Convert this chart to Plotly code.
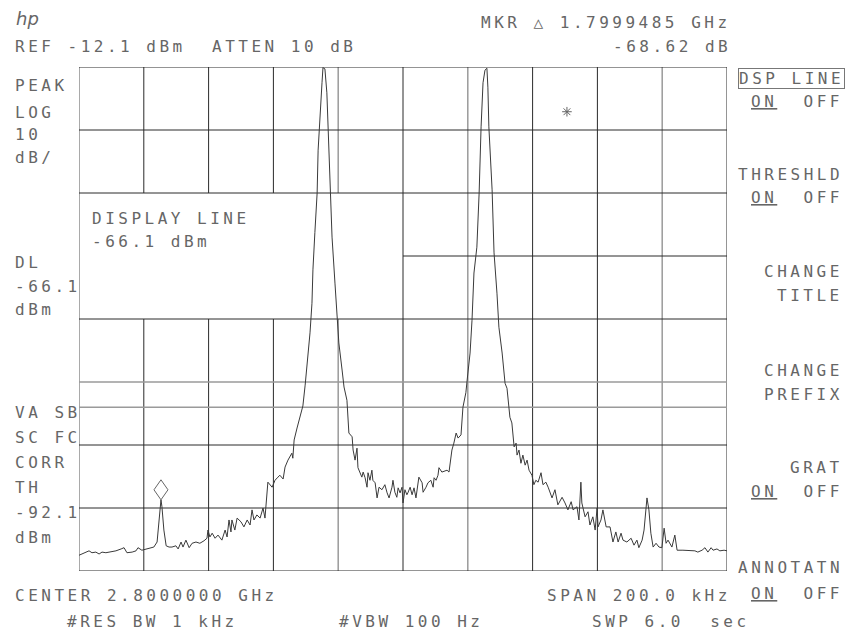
import plotly.graph_objects as go

# ---------------- data read from the screen ----------------
# frequency offset from centre (kHz) and trace level (dBm)
freq_khz = [
    -100.0, -98.5, -96.9, -96.0, -94.8, -93.8, -92.9, -91.7, -90.1, -88.6,
    -87.0, -86.1, -85.2, -83.6, -82.4, -81.8, -80.6, -79.3, -77.8, -76.9,
    -75.9, -75.3, -74.7, -74.4, -73.8, -73.1, -72.2, -71.3, -70.1, -69.4,
    -68.5, -67.9, -67.0, -66.0, -65.1, -63.9, -62.7, -61.4, -60.5, -60.2,
    -59.6, -58.9, -58.0, -57.1, -55.9, -54.9, -54.3, -53.7, -53.1, -52.8,
    -51.9, -51.2, -50.0, -49.1, -48.1, -47.2, -46.6, -46.0, -45.1, -44.1,
    -43.2, -42.6, -41.7, -40.4, -39.5, -38.6, -38.0, -37.0, -36.4, -35.5,
    -34.9, -34.3, -34.0, -33.6, -32.7, -31.8, -30.9, -30.2, -29.3, -28.7,
    -28.1, -27.8, -27.2, -26.5, -26.2, -25.6, -25.0, -24.7, -24.1, -23.5,
    -23.1, -22.5, -21.9, -21.0, -20.4, -19.8, -18.8, -18.2, -17.3, -16.7,
    -15.7, -15.4, -14.8, -14.2, -13.9, -12.7, -12.3, -11.7, -11.1, -10.8,
    -10.2, -9.6, -9.3, -8.6, -8.0, -7.4, -6.5, -5.6, -4.9, -4.3,
    -3.4, -3.1, -2.5, -1.9, -1.5, -0.9, -0.3, 0.0, 0.6, 1.2,
    1.5, 2.2, 2.8, 3.4, 4.0, 4.9, 5.9, 6.2, 7.1, 7.7,
    8.6, 9.3, 9.6, 10.2, 10.8, 11.1, 12.0, 13.6, 14.2, 15.1,
    15.7, 16.4, 17.0, 17.9, 18.5, 19.4, 19.8, 20.7, 21.3, 21.9,
    22.8, 23.5, 24.1, 24.7, 25.3, 25.9, 26.2, 26.5, 27.5, 28.1,
    29.0, 29.6, 30.6, 31.5, 32.1, 33.0, 33.6, 34.3, 34.9, 35.2,
    35.8, 36.4, 37.0, 37.7, 38.3, 38.9, 39.8, 40.4, 41.0, 41.7,
    42.6, 43.2, 44.1, 44.8, 46.0, 46.9, 47.8, 49.1, 50.0, 50.9,
    51.9, 52.5, 53.7, 54.3, 54.9, 55.2, 56.2, 57.1, 57.7, 58.6,
    59.3, 59.9, 60.2, 61.1, 61.7, 62.7, 63.9, 64.8, 65.7, 66.4,
    67.3, 67.9, 69.1, 70.4, 71.3, 72.2, 72.8, 73.8, 74.4, 75.0,
    75.3, 75.9, 76.5, 77.2, 78.1, 79.0, 79.9, 80.6, 81.2, 81.8,
    83.0, 83.9, 84.6, 86.4, 88.6, 90.1, 91.0, 92.3, 93.2, 94.1,
    95.1, 95.7, 96.9, 97.8, 99.1, 100.0,
]
level_dbm = [
    -89.6, -89.2, -88.9, -89.2, -89.1, -89.4, -89.1, -89.2, -89.1, -88.9,
    -88.6, -88.4, -89.2, -89.1, -88.9, -88.4, -88.8, -88.6, -88.4, -88.3,
    -87.5, -84.0, -80.8, -81.9, -85.6, -88.1, -88.3, -88.3, -88.1, -88.6,
    -87.5, -88.3, -87.2, -88.4, -87.7, -87.5, -87.7, -87.3, -86.9, -85.6,
    -86.7, -86.1, -86.9, -86.4, -87.2, -85.6, -86.7, -84.0, -85.9, -84.0,
    -85.6, -83.7, -84.3, -85.1, -84.0, -84.8, -82.4, -84.0, -83.2, -83.7,
    -82.1, -83.7, -78.0, -78.8, -77.7, -77.2, -76.9, -77.5, -75.6, -74.5,
    -74.0, -73.4, -74.2, -71.3, -69.4, -67.5, -65.9, -62.6, -58.1, -54.3,
    -49.6, -44.3, -38.4, -32.1, -25.3, -18.9, -14.6, -12.2, -12.4, -16.2,
    -22.6, -30.5, -39.1, -46.4, -51.8, -55.9, -60.2, -62.9, -65.0, -70.2,
    -70.8, -72.9, -74.5, -72.6, -75.7, -77.2, -76.4, -77.3, -78.8, -76.5,
    -77.7, -76.1, -77.7, -78.1, -80.5, -78.8, -79.2, -78.4, -79.7, -80.5,
    -78.8, -77.7, -79.6, -80.4, -78.9, -79.7, -78.8, -81.3, -79.2, -80.0,
    -79.7, -78.8, -80.0, -78.9, -80.5, -77.2, -78.1, -79.6, -78.8, -78.1,
    -77.7, -78.8, -77.3, -77.7, -76.9, -75.7, -76.4, -76.1, -76.4, -72.9,
    -71.8, -70.2, -71.0, -70.5, -66.1, -63.8, -61.8, -57.5, -52.3, -44.8,
    -40.7, -32.1, -21.6, -14.6, -12.6, -12.3, -15.3, -21.6, -31.6, -41.6,
    -48.0, -53.4, -57.5, -62.3, -63.1, -67.7, -68.6, -72.4, -71.8, -73.7,
    -72.9, -75.0, -73.7, -75.3, -74.5, -76.1, -76.9, -78.4, -77.7, -78.0,
    -76.5, -78.4, -78.0, -78.8, -80.5, -79.2, -81.6, -80.4, -81.3, -82.4,
    -81.1, -82.4, -81.9, -84.0, -78.0, -81.3, -83.5, -82.7, -84.8, -83.5,
    -85.6, -82.1, -85.1, -84.0, -82.4, -85.1, -85.1, -87.5, -85.9, -87.5,
    -86.1, -87.2, -87.5, -86.9, -88.0, -87.2, -88.4, -87.2, -85.6, -81.3,
    -80.5, -82.4, -86.1, -88.3, -87.7, -88.3, -88.4, -85.3, -87.7, -87.2,
    -88.3, -86.4, -88.8, -88.8, -88.8, -88.9, -89.1, -88.8, -88.4, -89.1,
    -88.4, -88.8, -88.6, -88.9, -88.8, -88.9,
]

marker_freq_khz = [-24.7, -74.7]      # peak marker and delta marker
marker_level_dbm = [-12.2, -80.8]
threshold_mark_freq_khz = [50.6]
threshold_mark_level_dbm = [-19.2]

ref_level_dbm = -12.1
display_line_dbm = -66.1
threshold_dbm = -92.1
grid_freqs_khz = [-100, -80, -60, -40, -20, 0, 20, 40, 60, 80, 100]
grid_levels_dbm = [-12.1, -22.1, -32.1, -42.1, -52.1, -62.1, -72.1, -82.1, -92.1]

# ---------------- layout geometry (screen pixels) ----------------
W, H = 846, 632
L, R, T, B = 79, 727, 67, 571


def px(x):
    return (x - L) / (R - L)


def py(y):
    return (B - y) / (B - T)


DARK = "#2a2a2a"
GRAY = "#9a9a9a"
TXT = "#666666"
FONT = "DejaVu Sans Mono"
LS = 3.5

fig = go.Figure()
fig.add_trace(go.Scatter(x=freq_khz, y=level_dbm, mode="lines",
                         line=dict(color="#3a3a3a", width=1), hoverinfo="skip"))
fig.add_trace(go.Scatter(x=threshold_mark_freq_khz, y=threshold_mark_level_dbm,
                         mode="markers",
                         marker=dict(symbol="asterisk-open", size=8, color="#666",
                                     line=dict(color="#666", width=1)),
                         hoverinfo="skip"))

shapes = []
# vertical graticule
box_top, box_bot = grid_levels_dbm[2], grid_levels_dbm[4]
vcolors = {0: "#555", 4: GRAY, 6: GRAY, 9: GRAY}
for i, f in enumerate(grid_freqs_khz):
    col = vcolors.get(i, DARK)
    w = 1.5 if col == GRAY else 1
    if 1 <= i <= 4:
        segs = [(grid_levels_dbm[0], box_top), (box_bot, grid_levels_dbm[-1])]
    else:
        segs = [(grid_levels_dbm[0], grid_levels_dbm[-1])]
    for y0, y1 in segs:
        shapes.append(dict(type="line", xref="x", yref="y", x0=f, x1=f, y0=y0, y1=y1,
                           line=dict(color=col, width=w), layer="below"))
# horizontal graticule
for j, lv in enumerate(grid_levels_dbm):
    col = GRAY if j == 5 else DARK
    w = 1.5 if col == GRAY else 1
    x0 = 0 if j == 3 else grid_freqs_khz[0]
    shapes.append(dict(type="line", xref="x", yref="y", x0=x0, x1=grid_freqs_khz[-1],
                       y0=lv, y1=lv, line=dict(color=col, width=w), layer="below"))
# display line
shapes.append(dict(type="line", xref="x", yref="y", x0=grid_freqs_khz[0],
                   x1=grid_freqs_khz[-1], y0=display_line_dbm, y1=display_line_dbm,
                   line=dict(color=GRAY, width=1.5), layer="below"))
# marker diamonds
for mf, ml in zip(marker_freq_khz, marker_level_dbm):
    shapes.append(dict(type="path", xref="x", yref="y", xsizemode="pixel",
                       ysizemode="pixel", xanchor=mf, yanchor=ml,
                       path="M0,0 L7,10 L0,20 L-7,10 Z",
                       line=dict(color="#666", width=1)))

annotations = []


def txt(s, x, y, anchor="left", size=16, border=False):
    s = s.replace(" ", "\u00a0")
    s = s.replace("[u]", "<u>").replace("[/u]", "</u>")
    a = dict(text=f'<span style="letter-spacing:{LS}px">{s}</span>',
             xref="paper", yref="paper", x=px(x), y=py(y),
             xanchor=anchor, yanchor="middle", showarrow=False,
             font=dict(family=FONT, size=size, color=TXT))
    if border:
        a.update(bordercolor="#777", borderwidth=1, borderpad=0)
    annotations.append(a)


txt("REF -12.1 dBm  ATTEN 10 dB", 13, 47)
txt("MKR \u25b3 1.7999485 GHz", 733, 22, "right")
txt("-68.62 dB", 733, 47, "right")
for s, y in [("PEAK", 86), ("LOG", 112), ("10", 134), ("dB/", 157),
             ("DL", 262), ("-66.1", 286), ("dBm", 309),
             ("VA SB", 412), ("SC FC", 437), ("CORR", 462), ("TH", 487),
             ("-92.1", 512), ("dBm", 537)]:
    txt(s, 13, y)
txt("DISPLAY LINE", 90, 218)
txt("-66.1 dBm", 90, 241)
txt("CENTER 2.8000000 GHz", 13, 595)
txt("#RES BW 1 kHz", 65, 621)
txt("#VBW 100 Hz", 337, 621)
txt("SPAN 200.0 kHz", 733, 595, "right")
txt("SWP 6.0  sec", 590, 621)

RX = 845
txt("DSP LINE", RX, 78, "right", border=True)
for s, y in [("[u]ON[/u]  OFF", 101), ("THRESHLD", 174), ("[u]ON[/u]  OFF", 197),
             ("CHANGE", 271), ("TITLE", 295), ("CHANGE", 370), ("PREFIX", 394),
             ("GRAT", 467), ("[u]ON[/u]  OFF", 491), ("ANNOTATN", 567),
             ("[u]ON[/u]  OFF", 593)]:
    txt(s, RX, y, "right")

annotations.append(dict(text="<i>hp</i>", xref="paper", yref="paper", x=px(14), y=py(19),
                        xanchor="left", yanchor="middle", showarrow=False,
                        font=dict(family="DejaVu Sans", size=18, color=TXT)))

fig.update_layout(
    width=W, height=H,
    margin=dict(l=L, r=W - R, t=T, b=H - B, pad=0),
    paper_bgcolor="white", plot_bgcolor="white",
    showlegend=False,
    xaxis=dict(range=[grid_freqs_khz[0], grid_freqs_khz[-1]], showgrid=False,
               zeroline=False, showticklabels=False, ticks="", showline=False),
    yaxis=dict(range=[threshold_dbm, ref_level_dbm], showgrid=False,
               zeroline=False, showticklabels=False, ticks="", showline=False),
    shapes=shapes, annotations=annotations,
)

# remove the browser's default 8px page margin so the figure fills the window
fig.write_html("out.html",
               config={"displayModeBar": False},
               post_script="document.body.style.margin='0';"
                           "document.body.style.overflow='hidden';")
